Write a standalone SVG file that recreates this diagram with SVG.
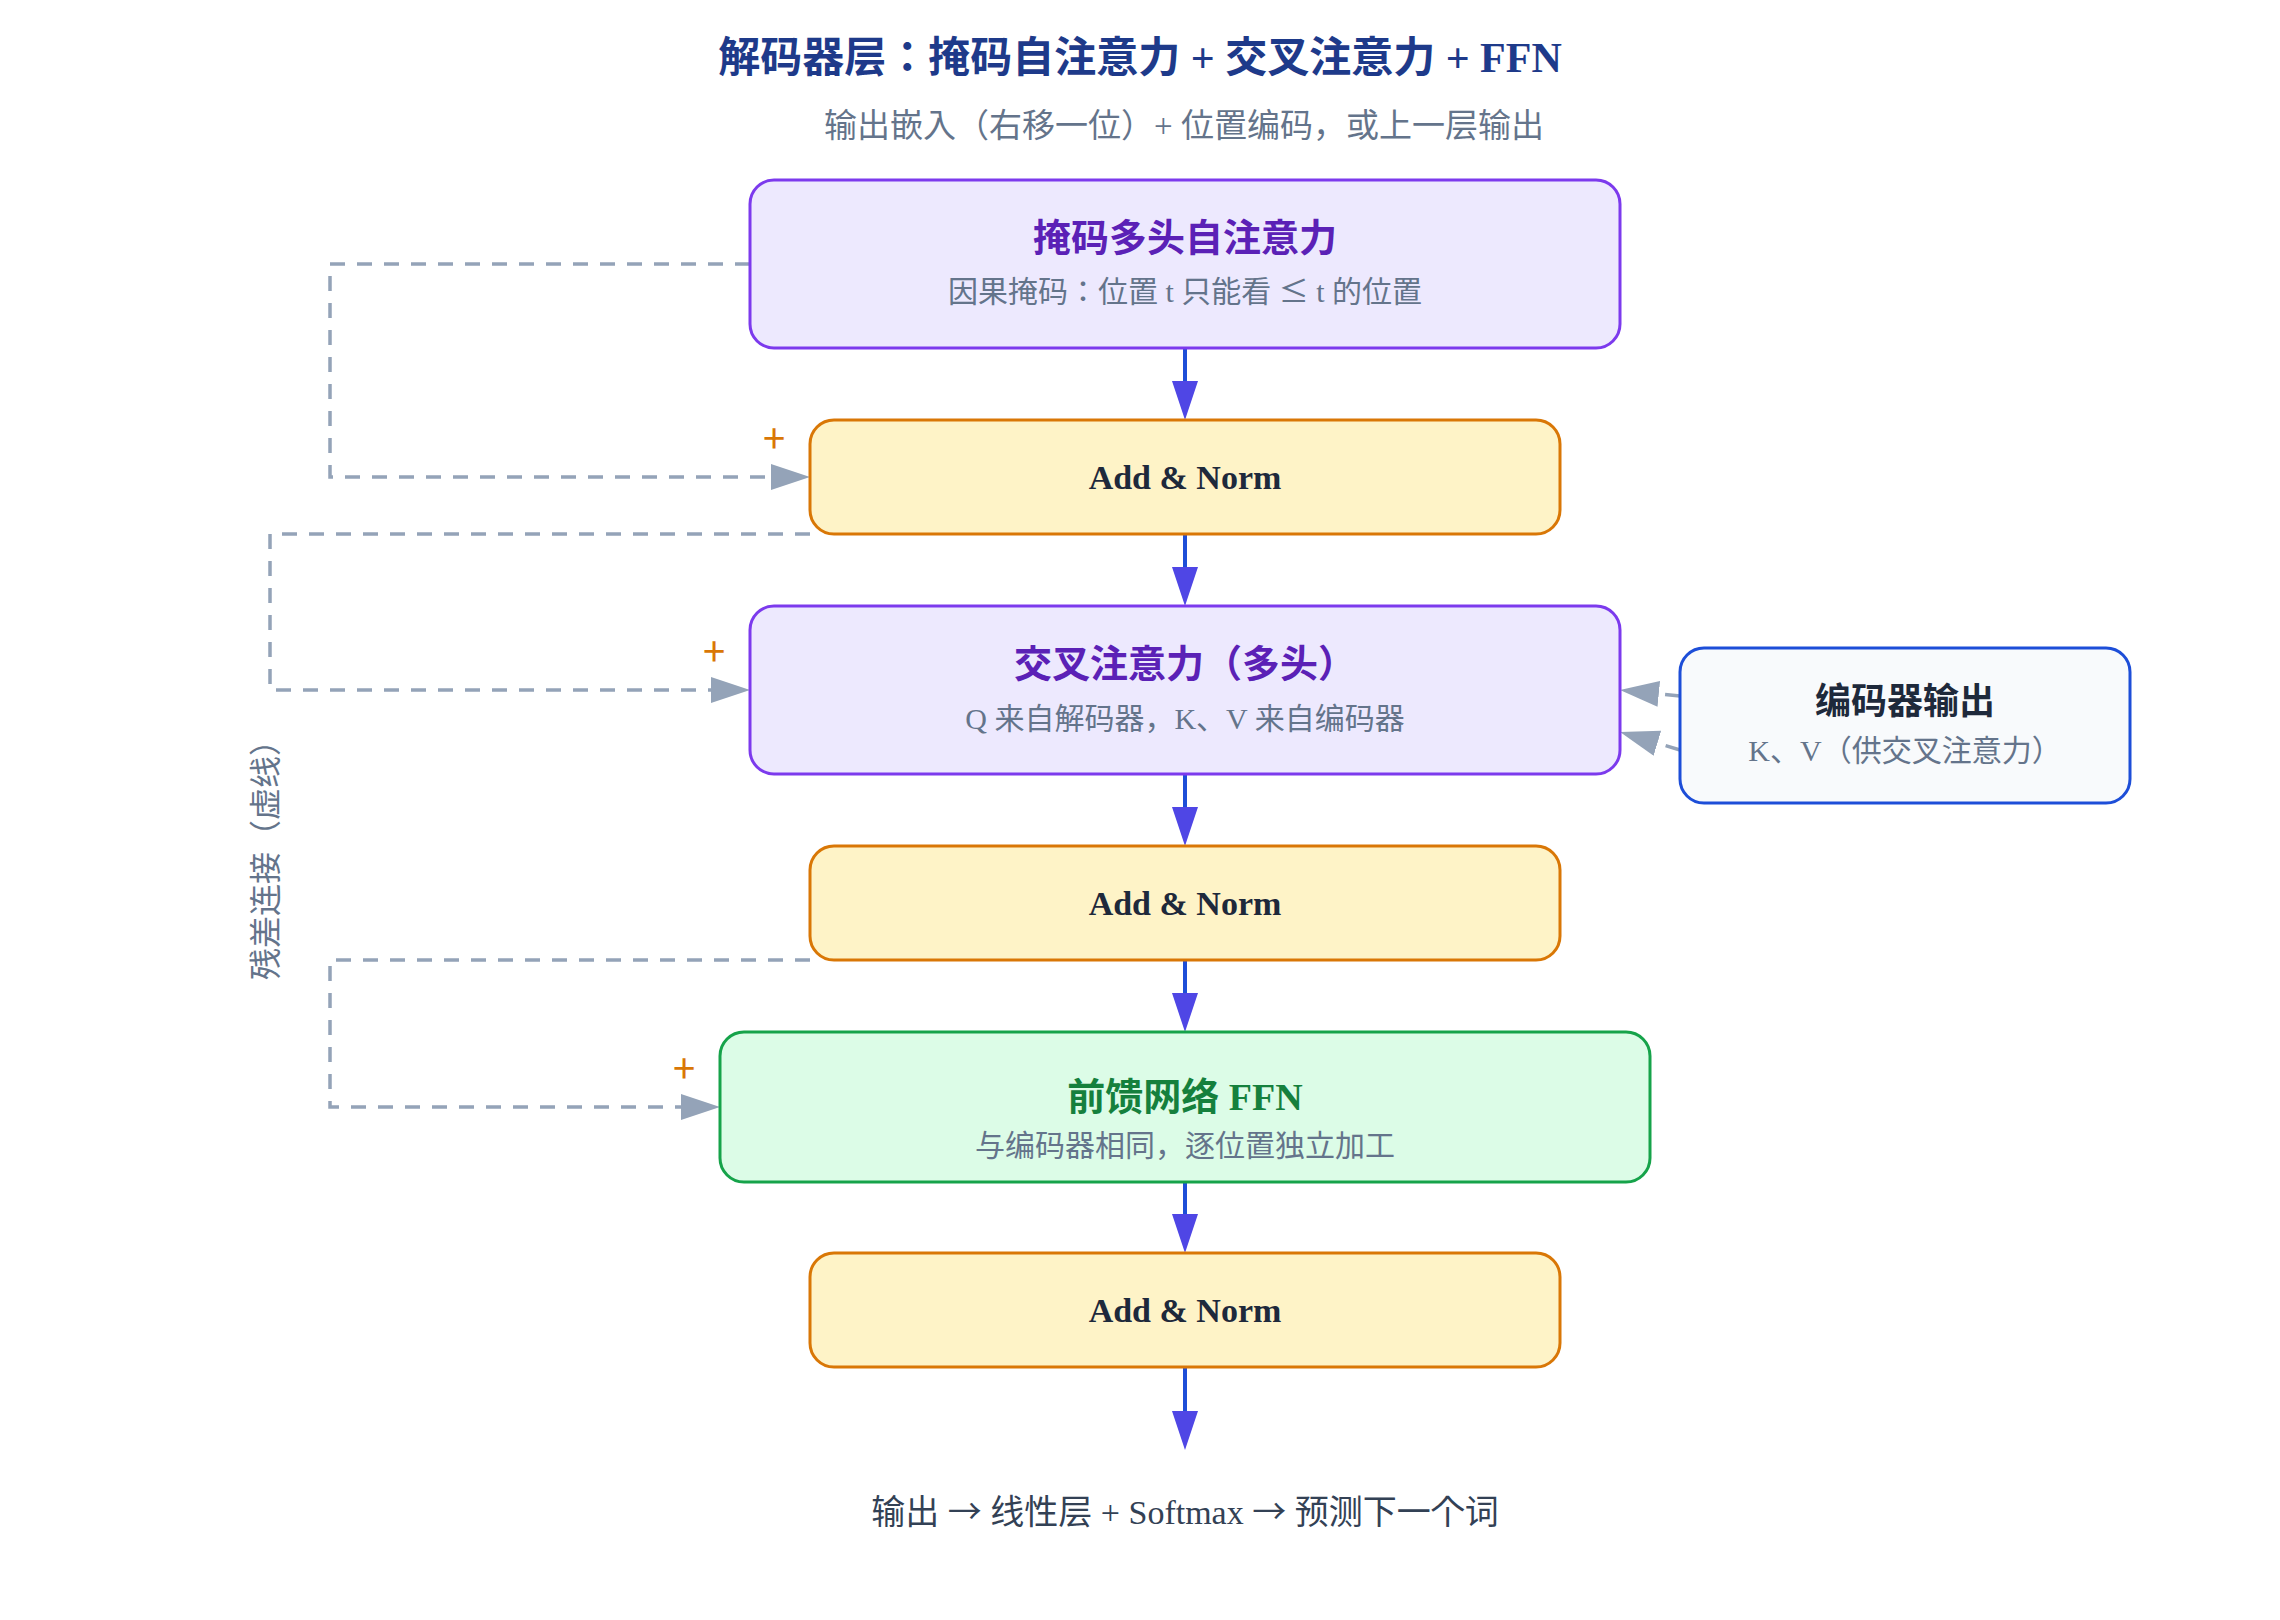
<svg xmlns="http://www.w3.org/2000/svg" width="2280" height="1620" viewBox="0 0 2280 1620">
<defs>
<style>
text{font-family:"Liberation Serif","Noto Sans CJK KR",serif;}
.cjk{font-family:"Noto Sans CJK KR",sans-serif;}
.title{font-size:42px;font-weight:bold;fill:#1e3a8a;text-anchor:middle;}
.note{font-size:33px;fill:#64748b;text-anchor:middle;}
.bottom{font-size:34px;fill:#334155;text-anchor:middle;}
.nt{font-size:38px;font-weight:bold;text-anchor:middle;}
.ns{font-size:30px;fill:#64748b;text-anchor:middle;}
.side{font-size:32px;fill:#64748b;text-anchor:middle;}
.an{font-size:34px;font-weight:bold;fill:#1e293b;text-anchor:middle;}
.att{fill:#ede9fe;stroke:#7c3aed;stroke-width:3;}
.add{fill:#fef3c7;stroke:#d97706;stroke-width:3;}
.ffn{fill:#dcfce7;stroke:#16a34a;stroke-width:3;}
.enc{fill:#f8fafc;stroke:#1d4ed8;stroke-width:3;}
.flow{fill:none;stroke:#1d4ed8;stroke-width:4;marker-end:url(#ah);}
.res{fill:none;stroke:#94a3b8;stroke-width:3.5;stroke-dasharray:15 12;marker-end:url(#ahg);}
.plus{font-family:"Noto Sans CJK KR",sans-serif;font-size:40px;fill:#d97706;text-anchor:middle;}
</style>
<marker id="ah" markerUnits="userSpaceOnUse" markerWidth="40" markerHeight="28" refX="0" refY="13" orient="auto"><path d="M0,0 L39,13 L0,26 Z" fill="#4f46e5"/></marker>
<marker id="ahg" markerUnits="userSpaceOnUse" markerWidth="40" markerHeight="28" refX="0" refY="13" orient="auto"><path d="M0,0 L39,13 L0,26 Z" fill="#94a3b8"/></marker>
</defs>
<rect width="2280" height="1620" fill="#ffffff"/>
<text class="title" x="1140" y="72">解码器层：掩码自注意力 + 交叉注意力 + FFN</text>
<text class="note" x="1184" y="137">输出嵌入（右移一位）+ 位置编码，或上一层输出</text>

<g id="connectors">
<line class="flow" x1="1185" y1="348" x2="1185" y2="381"/>
<line class="flow" x1="1185" y1="534" x2="1185" y2="567"/>
<line class="flow" x1="1185" y1="774" x2="1185" y2="807"/>
<line class="flow" x1="1185" y1="960" x2="1185" y2="993"/>
<line class="flow" x1="1185" y1="1182" x2="1185" y2="1214"/>
<line class="flow" x1="1185" y1="1367" x2="1185" y2="1411"/>
<path class="res" d="M750,264 H330 V477 H771"/>
<path class="res" d="M810,534 H270 V690 H711"/>
<path class="res" d="M810,960 H330 V1107 H681"/>
<line class="res" x1="1680" y1="696" x2="1658.8" y2="693.9"/>
<line class="res" x1="1680" y1="750" x2="1657.4" y2="743.2"/>
</g>

<g id="masked-attn">
<rect class="att" x="750" y="180" width="870" height="168" rx="24"/>
<text class="nt" x="1185" y="251" fill="#5b21b6">掩码多头自注意力</text>
<text class="ns" x="1185" y="302">因果掩码：位置 t 只能看 <tspan class="cjk">≤</tspan> t 的位置</text>
</g>
<g id="add-norm-1">
<rect class="add" x="810" y="420" width="750" height="114" rx="24"/>
<text class="an" x="1185" y="489">Add &amp; Norm</text>
</g>
<g id="cross-attn">
<rect class="att" x="750" y="606" width="870" height="168" rx="24"/>
<text class="nt" x="1185" y="677" fill="#5b21b6">交叉注意力（多头）</text>
<text class="ns" x="1185" y="729">Q 来自解码器，K、V 来自编码器</text>
</g>
<g id="add-norm-2">
<rect class="add" x="810" y="846" width="750" height="114" rx="24"/>
<text class="an" x="1185" y="915">Add &amp; Norm</text>
</g>
<g id="ffn">
<rect class="ffn" x="720" y="1032" width="930" height="150" rx="24"/>
<text class="nt" x="1185" y="1110" fill="#15803d">前馈网络 FFN</text>
<text class="ns" x="1185" y="1156">与编码器相同，逐位置独立加工</text>
</g>
<g id="add-norm-3">
<rect class="add" x="810" y="1253" width="750" height="114" rx="24"/>
<text class="an" x="1185" y="1322">Add &amp; Norm</text>
</g>
<g id="encoder-out">
<rect class="enc" x="1680" y="648" width="450" height="155" rx="24"/>
<text class="nt" x="1905" y="714" fill="#1e293b" style="font-size:36px">编码器输出</text>
<text class="ns" x="1905" y="761">K、V（供交叉注意力）</text>
</g>

<text class="plus" x="774" y="453">+</text>
<text class="plus" x="714" y="666">+</text>
<text class="plus" x="684" y="1083">+</text>
<text class="side" transform="translate(277,852) rotate(-90)">残差连接（虚线）</text>
<text class="bottom" x="1185" y="1524">输出 <tspan class="cjk">→</tspan> 线性层 + Softmax <tspan class="cjk">→</tspan> 预测下一个词</text>
</svg>
